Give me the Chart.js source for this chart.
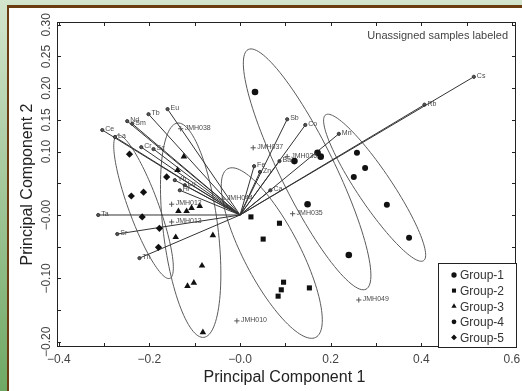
<!DOCTYPE html>
<html>
<head>
<meta charset="utf-8">
<script src="https://cdn.jsdelivr.net/npm/chart.js@4.4.1/dist/chart.umd.min.js"></script>
<style>
html, body { margin: 0; padding: 0; }
#frame { position: relative; width: 522px; height: 391px; overflow: hidden; background: linear-gradient(#d3e5cd, #6fa864); }
#panel { position: absolute; left: 7px; top: 5px; right: 0; bottom: 0; background: #fff; border-left: 2px solid #6b3c12; border-top: 3px solid #6b3c12; }
canvas { position: absolute; left: 0; top: 0; }
</style>
</head>
<body>
<div id="frame"><div id="panel"></div><canvas id="c" width="522" height="391"></canvas></div>
<script>
// scores (PC1, PC2)
const groupNames = ['Group-1', 'Group-2', 'Group-3', 'Group-4', 'Group-5'];
const group1 = [[0.033, 0.194], [0.171, 0.098], [0.178, 0.092], [0.120, 0.085], [0.149, 0.017], [0.240, -0.063]];
const group2 = [[0.024, -0.003], [0.087, -0.013], [0.051, -0.038], [0.096, -0.106], [0.091, -0.118], [0.084, -0.128], [0.153, -0.115]];
const group3 = [[-0.124, 0.092], [-0.138, 0.071], [-0.136, 0.006], [-0.118, 0.006], [-0.107, 0.011], [-0.089, 0.014],
                [-0.142, -0.035], [-0.060, -0.032], [-0.084, -0.080], [-0.116, -0.112], [-0.102, -0.107], [-0.082, -0.185]];
const group4 = [[0.258, 0.098], [0.276, 0.074], [0.251, 0.060], [0.324, 0.016], [0.373, -0.036]];
const group5 = [[-0.244, 0.096], [-0.240, 0.030], [-0.213, 0.036], [-0.216, -0.003], [-0.178, -0.021], [-0.180, -0.051], [-0.162, 0.060]];

const unassignedIds = ['JMH038', 'JMH037', 'JMH036', 'JMH035', 'JMH049', 'JMH010', 'JMH012', 'JMH013', 'JMH044'];
const unassignedPts = [[-0.131, 0.136], [0.029, 0.106], [0.104, 0.092], [0.116, 0.002], [0.262, -0.134],
                       [-0.007, -0.167], [-0.151, 0.017], [-0.151, -0.011], [-0.038, 0.025]];

// element loadings (arrow tips)
const loadingNames = ['Cs', 'Rb', 'Mn', 'Co', 'Sb', 'Ba', 'Zn', 'Fe', 'Ca', 'Eu', 'Tb', 'Sm', 'Nd', 'La', 'Ce',
                      'Cr', 'Sc', 'Yb', 'Lu', 'Hf', 'Ta', 'Sr', 'Th'];
const loadingPts = [[0.516, 0.218], [0.407, 0.174], [0.218, 0.128], [0.144, 0.142], [0.104, 0.151], [0.087, 0.085],
                    [0.044, 0.068], [0.031, 0.077], [0.067, 0.039], [-0.160, 0.167], [-0.202, 0.159], [-0.238, 0.144],
                    [-0.249, 0.148], [-0.276, 0.123], [-0.304, 0.134], [-0.218, 0.107], [-0.191, 0.104],
                    [-0.144, 0.055], [-0.122, 0.047], [-0.133, 0.039], [-0.313, 0.000], [-0.271, -0.030], [-0.222, -0.068]];

// group ellipses: centre x, centre y, semi-axis 1 (dx, dy), semi-axis 2 (dx, dy)
const ellipses = [
  [-0.213, 0.013, 0.058, -0.113, 0.031, 0.008],
  [-0.109, -0.024, 0.029, -0.169, 0.060, 0.005],
  [0.070, -0.060, 0.097, -0.133, 0.055, 0.020],
  [0.148, 0.072, 0.130, -0.189, 0.054, 0.019],
  [0.297, 0.043, 0.108, -0.115, 0.032, 0.015]
];

const xTicks = [-0.4, -0.3, -0.2, -0.1, 0, 0.1, 0.2, 0.3, 0.4, 0.5, 0.6];
const xTickLabels = { '-0.4': '\u22120.4', '-0.2': '\u22120.2', '0': '\u22120.0', '0.2': '0.2', '0.4': '0.4', '0.6': '0.6' };
const yTicks = [-0.2, -0.15, -0.1, -0.05, 0, 0.05, 0.1, 0.15, 0.2, 0.25, 0.3];
const yTickLabels = { '-0.2': '\u22120.20', '-0.1': '\u22120.10', '0': '\u22120.00', '0.1': '0.10', '0.15': '0.15', '0.2': '0.20', '0.25': '0.25', '0.3': '0.30' };

const FONT = "'Liberation Sans', Arial, sans-serif";
const toXY = a => a.map(p => ({ x: p[0], y: p[1] }));

const groupStyles = [
  { pointStyle: 'circle', radius: 3.3 },
  { pointStyle: 'rect', radius: 3.6 },
  { pointStyle: 'triangle', radius: 3.8 },
  { pointStyle: 'circle', radius: 3.0 },
  { pointStyle: 'rectRot', radius: 3.6 }
];
const groups = [group1, group2, group3, group4, group5];

const datasets = [];
groups.forEach((g, i) => {
  datasets.push({
    label: groupNames[i], data: toXY(g), pointStyle: groupStyles[i].pointStyle, pointRadius: groupStyles[i].radius,
    backgroundColor: '#111', borderColor: '#111', borderWidth: 0, order: 1
  });
});
datasets.push({
  label: 'Unassigned', data: toXY(unassignedPts), pointStyle: 'cross', pointRadius: 2.6,
  borderColor: '#555', borderWidth: 1, order: 1
});
loadingNames.forEach((n, i) => {
  datasets.push({
    label: n, data: [{ x: 0, y: 0 }, { x: loadingPts[i][0], y: loadingPts[i][1] }], showLine: true,
    borderColor: '#333', borderWidth: 1, pointRadius: [0, 1.6], pointStyle: 'circle',
    backgroundColor: '#555', order: 3
  });
});

const deco = {
  id: 'deco',
  beforeDatasetsDraw(chart) {
    const { ctx, scales: { x, y } } = chart;
    ctx.save();
    ctx.strokeStyle = '#5a5a5a';
    ctx.lineWidth = 1;
    ellipses.forEach(e => {
      ctx.beginPath();
      for (let i = 0; i <= 120; i++) {
        const t = i / 120 * 2 * Math.PI;
        const px = x.getPixelForValue(e[0] + e[2] * Math.cos(t) + e[4] * Math.sin(t));
        const py = y.getPixelForValue(e[1] + e[3] * Math.cos(t) + e[5] * Math.sin(t));
        if (i) ctx.lineTo(px, py); else ctx.moveTo(px, py);
      }
      ctx.stroke();
    });
    ctx.restore();
  },
  afterDatasetsDraw(chart) {
    const { ctx, chartArea: a, scales: { x, y } } = chart;
    ctx.save();
    // labels at arrow tips and unassigned samples
    ctx.fillStyle = '#4a4a4a';
    ctx.font = '7px ' + FONT;
    ctx.textBaseline = 'middle';
    ctx.textAlign = 'left';
    loadingNames.forEach((n, i) => {
      ctx.fillText(n, x.getPixelForValue(loadingPts[i][0]) + 3, y.getPixelForValue(loadingPts[i][1]) - 1);
    });
    unassignedIds.forEach((n, i) => {
      ctx.fillText(n, x.getPixelForValue(unassignedPts[i][0]) + 4, y.getPixelForValue(unassignedPts[i][1]) - 1);
    });

    // box and inward ticks
    ctx.strokeStyle = '#222';
    ctx.lineWidth = 1;
    ctx.strokeRect(a.left + 0.5, a.top + 0.5, a.right - a.left - 1, a.bottom - a.top - 1);
    ctx.beginPath();
    x.ticks.forEach(t => {
      const px = Math.round(x.getPixelForValue(t.value)) + 0.5;
      ctx.moveTo(px, a.bottom); ctx.lineTo(px, a.bottom - 4);
      ctx.moveTo(px, a.top); ctx.lineTo(px, a.top + 4);
    });
    y.ticks.forEach(t => {
      const py = Math.round(y.getPixelForValue(t.value)) + 0.5;
      ctx.moveTo(a.left, py); ctx.lineTo(a.left + 4, py);
      ctx.moveTo(a.right, py); ctx.lineTo(a.right - 4, py);
    });
    ctx.stroke();

    // rotated y tick labels
    ctx.fillStyle = '#444';
    ctx.font = '12px ' + FONT;
    ctx.textAlign = 'center';
    ctx.textBaseline = 'middle';
    Object.keys(yTickLabels).forEach(k => {
      ctx.save();
      ctx.translate(a.left - 10, y.getPixelForValue(Number(k)));
      ctx.rotate(-Math.PI / 2);
      ctx.fillText(yTickLabels[k], 0, 0);
      ctx.restore();
    });

    // axis titles
    ctx.fillStyle = '#222';
    ctx.font = '16px ' + FONT;
    ctx.fillText('Principal Component 1', (a.left + a.right) / 2 - 2, 378);
    ctx.save();
    ctx.translate(28, (a.top + a.bottom) / 2);
    ctx.rotate(-Math.PI / 2);
    ctx.fillText('Principal Component 2', 0, 0);
    ctx.restore();

    // note
    ctx.fillStyle = '#444';
    ctx.font = '11px ' + FONT;
    ctx.textAlign = 'right';
    ctx.fillText('Unassigned samples labeled', a.right - 8, 36);

    // legend
    const lx = a.right - 78, ly = a.bottom - 84;
    ctx.fillStyle = '#fff';
    ctx.fillRect(lx, ly, 78, 84);
    ctx.strokeStyle = '#222';
    ctx.strokeRect(lx + 0.5, ly + 0.5, 78, 84);
    ctx.font = '12px ' + FONT;
    ctx.textAlign = 'left';
    groupNames.forEach((n, i) => {
      const ry = ly + 12 + i * 15.6;
      ctx.fillStyle = '#111';
      ctx.strokeStyle = '#111';
      Chart.helpers.drawPoint(ctx, { pointStyle: groupStyles[i].pointStyle, radius: groupStyles[i].radius * 0.8, rotation: 0, borderWidth: 0 }, lx + 16, ry);
      ctx.fillStyle = '#333';
      ctx.fillText(n, lx + 22, ry + 1);
    });
    ctx.restore();
  }
};

new Chart(document.getElementById('c'), {
  type: 'scatter',
  data: { datasets },
  plugins: [deco],
  options: {
    responsive: false,
    devicePixelRatio: 1,
    animation: false,
    layout: { padding: { top: 22, right: 6, left: 0, bottom: 0 } },
    plugins: { legend: { display: false }, tooltip: { enabled: false } },
    scales: {
      x: {
        type: 'linear', position: 'bottom', min: -0.404, max: 0.609,
        grid: { display: false }, border: { display: false },
        afterBuildTicks: s => { s.ticks = xTicks.map(v => ({ value: v })); },
        afterFit: s => { s.height = 44; s.paddingLeft = 0; s.paddingRight = 0; },
        ticks: {
          autoSkip: false, maxRotation: 0, padding: -3, color: '#444',
          font: { family: FONT, size: 12 },
          callback: v => xTickLabels[String(Math.round(v * 10) / 10)] || ''
        }
      },
      y: {
        type: 'linear', position: 'left', min: -0.2082, max: 0.3044,
        grid: { display: false }, border: { display: false },
        afterBuildTicks: s => { s.ticks = yTicks.map(v => ({ value: v })); },
        afterFit: s => { s.width = 57; s.paddingTop = 0; s.paddingBottom = 0; },
        ticks: { display: false }
      }
    }
  }
});
</script>
</body>
</html>
